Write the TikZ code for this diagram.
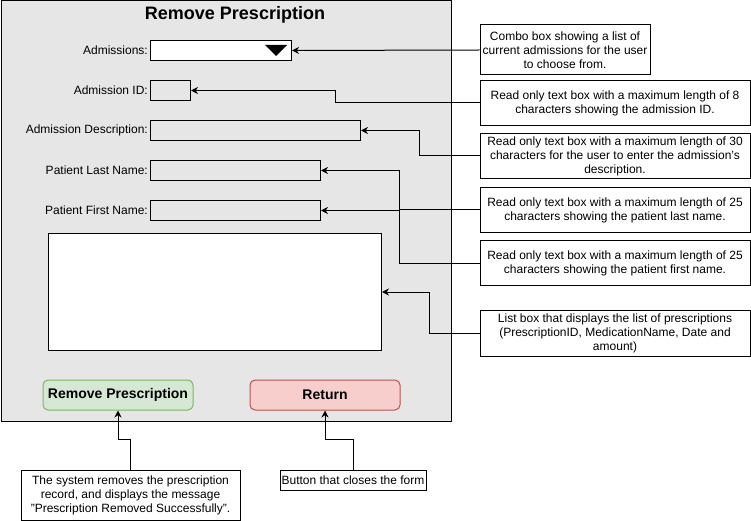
\documentclass[tikz,border=0pt]{standalone}
\usepackage{fontspec}
\setmainfont{Liberation Sans}
\usetikzlibrary{arrows.meta}
\definecolor{formbg}{HTML}{E6E6E6}
\definecolor{gfill}{HTML}{D5E8D4}
\definecolor{gline}{HTML}{82B366}
\definecolor{rfill}{HTML}{F8CECC}
\definecolor{rline}{HTML}{B85450}
\tikzset{
  lbl/.style={anchor=east, inner sep=0pt, font=\fontsize{12pt}{14pt}\selectfont},
  field/.style={draw=black, line width=1pt, fill=formbg, anchor=north west, inner sep=0pt},
  note/.style={draw=black, line width=1pt, fill=white, inner sep=0pt, align=center, font=\fontsize{12pt}{14pt}\selectfont},
  conn/.style={draw=black, line width=1pt, -{Stealth[length=7pt,width=7pt]}},
  btn/.style={draw, line width=1pt, rounded corners=5pt, minimum width=150pt, minimum height=30pt, inner sep=0pt, font=\bfseries\fontsize{14pt}{16pt}\selectfont},
}
\begin{document}
\begin{tikzpicture}[x=1pt,y=-1pt]
\useasboundingbox (0,0) rectangle (751,521);
% form
\node[draw=black, line width=1pt, fill=formbg, anchor=north west, minimum width=450pt, minimum height=420pt, inner sep=0pt] (form) at (0.5,0.5) {};
\node[font=\bfseries\fontsize{18pt}{21pt}\selectfont, inner sep=0pt] (title) at (235,15) {Remove Prescription};
% fields
\node[lbl] (lA) at (148,50) {Admissions:};
\node[field, fill=white, minimum width=141pt, minimum height=20pt] (combo) at (150,40) {};
\fill[black] (265,45) -- (287,45) -- (276,56) -- cycle;
\node[lbl] (lB) at (148,90) {Admission ID:};
\node[field, minimum width=40pt, minimum height=20pt] (idbox) at (150,80) {};
\node[lbl] (lC) at (148,130) {Admission Description:};
\node[field, minimum width=210pt, minimum height=20pt] (descbox) at (150,120) {};
\node[lbl] (lD) at (148,170) {Patient Last Name:};
\node[field, minimum width=170pt, minimum height=20pt] (lastbox) at (150,160) {};
\node[lbl] (lE) at (148,210) {Patient First Name:};
\node[field, minimum width=170pt, minimum height=20pt] (firstbox) at (150,200) {};
\node[field, fill=white, minimum width=333pt, minimum height=117pt] (listbox) at (48,233) {};
% buttons
\node[btn, draw=gline, fill=gfill] (btnRem) at (118,395) {Remove Prescription};
\node[btn, draw=rline, fill=rfill] (btnRet) at (325,395) {Return};
% notes
\node[note, minimum width=170pt, minimum height=50pt] (nA) at (565,50) {Combo box showing a list of\\current admissions for the user\\to choose from.};
\node[note, minimum width=270pt, minimum height=45pt] (nB) at (615,103) {Read only text box with a maximum length of 8\\characters showing the admission ID.};
\node[note, minimum width=270pt, minimum height=45pt] (nC) at (615,156) {Read only text box with a maximum length of 30\\characters for the user to enter the admission's\\description.};
\node[note, minimum width=270pt, minimum height=45pt] (nD) at (615,210) {Read only text box with a maximum length of 25\\characters showing the patient last name.};
\node[note, minimum width=270pt, minimum height=45pt] (nE) at (615,263) {Read only text box with a maximum length of 25\\characters showing the patient first name.};
\node[note, minimum width=270pt, minimum height=46pt] (nF) at (615,333) {List box that displays the list of prescriptions\\(PrescriptionID, MedicationName, Date and\\amount)};
\node[note, minimum width=219pt, minimum height=50pt] (nG) at (130.5,495) {The system removes the prescription\\record, and displays the message\\"Prescription Removed Successfully".};
\node[note, minimum width=146pt, minimum height=20pt] (nH) at (353,480) {Button that closes the form};
% connectors
\draw[conn] (nA.west) -- (combo.east);
\draw[conn] (nB.west) -- ++(-144,0) |- (idbox.east);
\draw[conn] (nC.west) -- ++(-60,0) |- (descbox.east);
\draw[conn] (nD.west) -- ++(-80,0) |- (lastbox.east);
\draw[conn] (nE.west) -- ++(-80,0) |- (firstbox.east);
\draw[conn] (nF.west) -- ++(-50,0) |- (listbox.east);
\draw[conn] (nG.north) -- ++(0,-30) -| (btnRem.south);
\draw[conn] (nH.north) -- ++(0,-30) -| (btnRet.south);
\end{tikzpicture}
\end{document}
